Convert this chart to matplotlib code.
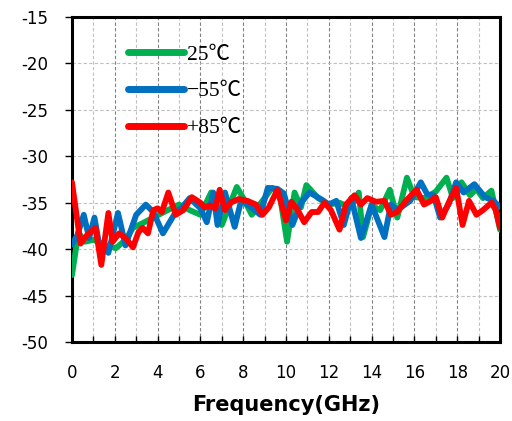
import numpy as np
import matplotlib
matplotlib.use("Agg")
import matplotlib.pyplot as plt

plt.rcParams["axes.unicode_minus"] = False

# 25°C
f_25 = [0.0, 0.3, 0.6, 1.0, 1.5, 2.05, 2.5, 2.85, 3.3, 3.8, 4.3, 5.0, 5.5, 6.0, 6.5, 7.0,
        7.7, 8.0, 8.4, 8.9, 9.35, 9.7, 10.05, 10.4, 10.7, 10.95, 11.5, 12.0, 12.5, 13.0,
        13.4, 13.6, 14.0, 14.4, 14.85, 15.2, 15.65, 16.0, 16.5, 17.0, 17.5, 17.8, 18.2,
        18.6, 18.9, 19.2, 19.6, 20.0]
g_25 = [-42.8, -38.2, -39.2, -39.0, -39.5, -39.9, -39.0, -37.7, -37.2, -36.6, -36.0, -35.2,
        -35.8, -36.3, -33.9, -37.4, -33.3, -34.5, -36.3, -34.8, -33.4, -34.0, -39.2, -33.9,
        -35.5, -33.1, -34.5, -35.2, -35.0, -35.5, -33.9, -38.7, -35.3, -35.8, -33.6, -36.6,
        -32.3, -34.4, -34.5, -33.8, -32.3, -34.5, -32.8, -34.2, -33.5, -34.5, -33.7, -37.9]

# -55°C
f_55 = [0.0, 0.25, 0.55, 0.8, 1.05, 1.25, 1.7, 2.15, 2.5, 3.0, 3.45, 3.8, 4.25, 4.85, 5.1,
        5.5, 6.0, 6.3, 6.6, 6.8, 7.15, 7.6, 7.9, 8.2, 8.8, 9.15, 9.6, 9.9, 10.3, 10.7, 11.1,
        11.7, 12.0, 12.35, 12.7, 13.05, 13.5, 14.0, 14.6, 14.9, 15.2, 15.8, 16.3, 16.6,
        16.9, 17.2, 17.6, 17.95, 18.3, 18.8, 19.3, 19.7, 20.0]
g_55 = [-39.5, -38.5, -36.3, -38.8, -36.6, -39.2, -40.4, -36.1, -39.6, -36.3, -35.2, -36.0,
        -38.3, -36.0, -35.6, -34.5, -35.6, -37.1, -33.9, -37.4, -33.9, -37.6, -34.8, -35.2,
        -36.3, -33.4, -33.5, -34.0, -37.4, -35.0, -33.9, -34.7, -35.2, -34.8, -37.4, -34.5,
        -38.8, -35.2, -38.7, -35.2, -35.8, -34.8, -32.8, -34.1, -34.2, -36.6, -35.2, -32.8,
        -33.9, -33.0, -34.4, -34.8, -35.5]

# +85°C
f_85 = [0.0, 0.4, 0.7, 1.1, 1.37, 1.7, 1.9, 2.2, 2.5, 2.85, 3.1, 3.3, 3.55, 3.8, 4.0, 4.2,
        4.5, 4.85, 5.2, 5.6, 6.0, 6.2, 6.45, 6.7, 6.9, 7.15, 7.4, 7.8, 8.2, 8.6, 8.9, 9.2,
        9.6, 10.0, 10.25, 10.55, 10.85, 11.2, 11.5, 11.8, 12.1, 12.5, 12.8, 13.2, 13.5, 13.8,
        14.2, 14.6, 14.9, 15.2, 15.6, 16.1, 16.45, 16.7, 17.0, 17.3, 17.6, 17.95, 18.25,
        18.55, 18.9, 19.2, 19.6, 19.8, 20.0]
g_85 = [-32.8, -39.4, -38.5, -37.7, -41.7, -36.1, -39.2, -38.3, -38.8, -39.8, -38.2, -37.7,
        -38.3, -35.8, -35.6, -36.0, -33.9, -36.3, -35.8, -34.4, -35.0, -35.5, -35.3, -35.6,
        -33.6, -35.8, -35.0, -34.6, -34.8, -35.2, -36.3, -35.5, -33.6, -36.9, -34.9, -35.8,
        -37.1, -36.0, -36.0, -35.0, -35.8, -37.9, -35.2, -34.2, -35.2, -34.5, -34.9, -34.8,
        -36.3, -36.0, -34.8, -33.6, -35.2, -34.9, -34.4, -36.6, -35.0, -33.4, -37.4, -34.8,
        -36.3, -35.8, -35.0, -35.8, -37.7]

fig = plt.figure(figsize=(5.12, 4.21), dpi=100)
ax = fig.add_axes([0.1406, 0.1876, 0.836, 0.772])

lw = 4.2
ax.plot(f_25, g_25, color="#00b050", lw=lw, solid_joinstyle="round", solid_capstyle="round", label="25℃", zorder=3)
ax.plot(f_55, g_55, color="#0070c0", lw=lw, solid_joinstyle="round", solid_capstyle="round", label="\u221255℃", zorder=4)
ax.plot(f_85, g_85, color="#ff0000", lw=lw, solid_joinstyle="round", solid_capstyle="round", label="+85℃", zorder=5)

ax.set_xlim(0, 20)
ax.set_ylim(-50, -15)
ax.set_xticks(np.arange(0, 21, 2))
ax.set_xticks(np.arange(1, 20, 2), minor=True)
ax.set_yticks(np.arange(-50, -14, 5))

ax.grid(axis="x", which="major", color="#808080", linestyle=(0, (3, 2)), lw=0.8)
ax.grid(axis="x", which="minor", color="#c0c0c0", linestyle=(0, (3, 2)), lw=0.8)
ax.grid(axis="y", which="major", color="#c0c0c0", linestyle=(0, (3, 2)), lw=0.8)

for s in ax.spines.values():
    s.set_linewidth(2.2)

ax.tick_params(axis="y", direction="out", length=5, width=1, labelsize=12, pad=12)
ax.tick_params(axis="x", which="both", direction="in", length=4, width=1, labelsize=12, pad=16)

ax.set_xlabel("Frequency(GHz)", fontsize=15, fontweight="bold", labelpad=9)

leg = ax.legend(loc="upper left", bbox_to_anchor=(0.085, 0.975), frameon=False,
                handlelength=2.6, handletextpad=0.15, labelspacing=0.78,
                prop={"family": ["Liberation Serif", "Noto Sans CJK JP"], "size": 15.5})
for line in leg.get_lines():
    line.set_linewidth(5)
    line.set_solid_capstyle("round")

fig.savefig("out.png", dpi=100)
